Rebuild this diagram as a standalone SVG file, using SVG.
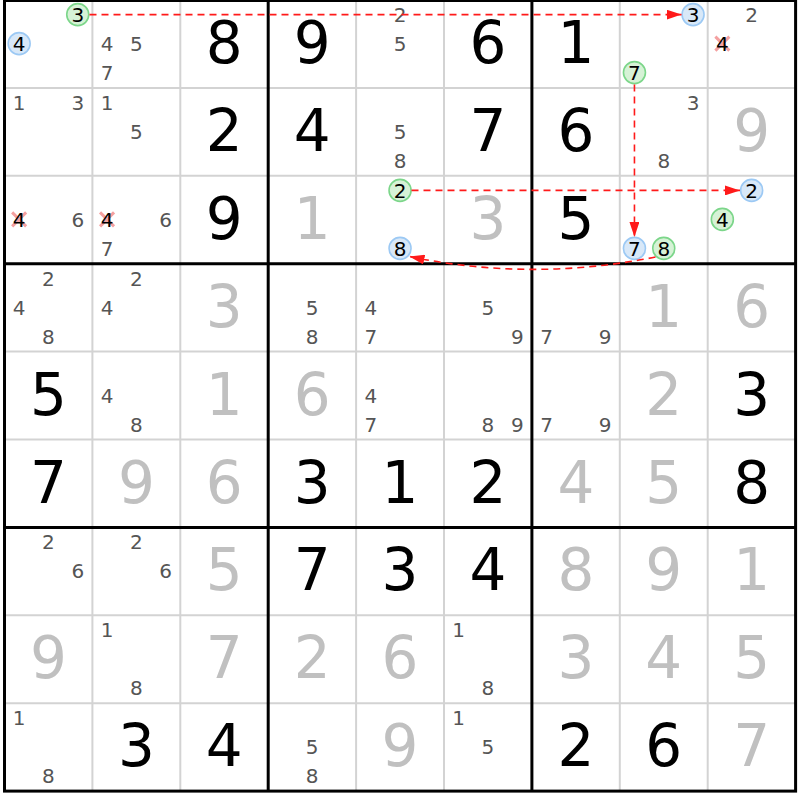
<svg xmlns="http://www.w3.org/2000/svg" width="800" height="800" viewBox="0 0 800 800">
<style>
text{font-family:"DejaVu Sans","Liberation Sans",sans-serif;text-anchor:middle}
.g{font-size:58px;fill:#000}
.s{font-size:58px;fill:#c0c0c0}
.c{font-size:20px;fill:#555}
.h{font-size:20px;fill:#000}
.thin{stroke:#d3d3d3;stroke-width:2}
.thick{stroke:#000;stroke-width:3}
.cb{fill:#d8e8f8;stroke:#9cc9f4;stroke-width:1.6}
.cg{fill:#d6f2d6;stroke:#7cd68a;stroke-width:1.6}
.x{stroke:#f4a0a0;stroke-width:3}
.link{fill:none;stroke:#ff1a1a;stroke-width:1.6;stroke-dasharray:7 5;marker-end:url(#ah)}
</style>
<defs>
<marker id="ah" markerUnits="userSpaceOnUse" markerWidth="15" markerHeight="10" refX="15" refY="5" orient="auto">
<path d="M0,0 L15,5 L0,10 z" fill="#ff1a1a"/>
</marker>
</defs>
<rect x="0" y="0" width="800" height="800" fill="#fff"/>
<g id="grid">
<g class="thin">
<line x1="92.4" y1="0" x2="92.4" y2="791"/><line x1="180.3" y1="0" x2="180.3" y2="791"/>
<line x1="356.1" y1="0" x2="356.1" y2="791"/><line x1="444" y1="0" x2="444" y2="791"/>
<line x1="619.8" y1="0" x2="619.8" y2="791"/><line x1="707.7" y1="0" x2="707.7" y2="791"/>
<line x1="4.5" y1="87.9" x2="795.6" y2="87.9"/><line x1="4.5" y1="175.8" x2="795.6" y2="175.8"/>
<line x1="4.5" y1="351.6" x2="795.6" y2="351.6"/><line x1="4.5" y1="439.5" x2="795.6" y2="439.5"/>
<line x1="4.5" y1="615.3" x2="795.6" y2="615.3"/><line x1="4.5" y1="703.2" x2="795.6" y2="703.2"/>
</g>
<g class="thick">
<line x1="268.2" y1="0" x2="268.2" y2="791"/><line x1="531.9" y1="0" x2="531.9" y2="791"/>
<line x1="4.5" y1="263.7" x2="795.6" y2="263.7"/><line x1="4.5" y1="527.4" x2="795.6" y2="527.4"/>
<rect x="4.5" y="0.5" width="791.1" height="790.6" fill="none"/>
</g>
</g>
<g id="r0">
<g id="c00"><circle class="cg" cx="77.75" cy="14.6" r="11"/><text class="h" x="77.75" y="21.9">3</text><circle class="cb" cx="19.15" cy="43.6" r="11"/><text class="h" x="19.15" y="50.9">4</text></g>
<g id="c01"><text class="c" x="107.05" y="50.9">4</text><text class="c" x="136.35" y="50.9">5</text><text class="c" x="107.05" y="79.9">7</text></g>
<g id="c02"><text class="g" x="224.25" y="63">8</text></g>
<g id="c03"><text class="g" x="312.15" y="63">9</text></g>
<g id="c04"><text class="c" x="400.05" y="21.9">2</text><text class="c" x="400.05" y="50.9">5</text></g>
<g id="c05"><text class="g" x="487.95" y="63">6</text></g>
<g id="c06"><text class="g" x="575.85" y="63">1</text></g>
<g id="c07"><circle class="cb" cx="693.05" cy="14.6" r="11"/><text class="h" x="693.05" y="21.9">3</text><circle class="cg" cx="634.45" cy="72.6" r="11"/><text class="h" x="634.45" y="79.9">7</text></g>
<g id="c08"><text class="c" x="751.65" y="21.9">2</text><path class="x" d="M715.35,36.6 L729.35,50.6 M729.35,36.6 L715.35,50.6"/><text class="h" x="722.35" y="50.9">4</text></g>
</g>
<g id="r1">
<g id="c10"><text class="c" x="19.15" y="109.8">1</text><text class="c" x="77.75" y="109.8">3</text></g>
<g id="c11"><text class="c" x="107.05" y="109.8">1</text><text class="c" x="136.35" y="138.8">5</text></g>
<g id="c12"><text class="g" x="224.25" y="150.9">2</text></g>
<g id="c13"><text class="g" x="312.15" y="150.9">4</text></g>
<g id="c14"><text class="c" x="400.05" y="138.8">5</text><text class="c" x="400.05" y="167.8">8</text></g>
<g id="c15"><text class="g" x="487.95" y="150.9">7</text></g>
<g id="c16"><text class="g" x="575.85" y="150.9">6</text></g>
<g id="c17"><text class="c" x="693.05" y="109.8">3</text><text class="c" x="663.75" y="167.8">8</text></g>
<g id="c18"><text class="s" x="751.65" y="150.9">9</text></g>
</g>
<g id="r2">
<g id="c20"><path class="x" d="M12.15,212.4 L26.15,226.4 M26.15,212.4 L12.15,226.4"/><text class="h" x="19.15" y="226.7">4</text><text class="c" x="77.75" y="226.7">6</text></g>
<g id="c21"><path class="x" d="M100.05,212.4 L114.05,226.4 M114.05,212.4 L100.05,226.4"/><text class="h" x="107.05" y="226.7">4</text><text class="c" x="165.65" y="226.7">6</text><text class="c" x="107.05" y="255.7">7</text></g>
<g id="c22"><text class="g" x="224.25" y="238.8">9</text></g>
<g id="c23"><text class="s" x="312.15" y="238.8">1</text></g>
<g id="c24"><circle class="cg" cx="400.05" cy="190.4" r="11"/><text class="h" x="400.05" y="197.7">2</text><circle class="cb" cx="400.05" cy="248.4" r="11"/><text class="h" x="400.05" y="255.7">8</text></g>
<g id="c25"><text class="s" x="487.95" y="238.8">3</text></g>
<g id="c26"><text class="g" x="575.85" y="238.8">5</text></g>
<g id="c27"><circle class="cb" cx="634.45" cy="248.4" r="11"/><text class="h" x="634.45" y="255.7">7</text><circle class="cg" cx="663.75" cy="248.4" r="11"/><text class="h" x="663.75" y="255.7">8</text></g>
<g id="c28"><circle class="cb" cx="751.65" cy="190.4" r="11"/><text class="h" x="751.65" y="197.7">2</text><circle class="cg" cx="722.35" cy="219.4" r="11"/><text class="h" x="722.35" y="226.7">4</text></g>
</g>
<g id="r3">
<g id="c30"><text class="c" x="48.45" y="285.6">2</text><text class="c" x="19.15" y="314.6">4</text><text class="c" x="48.45" y="343.6">8</text></g>
<g id="c31"><text class="c" x="136.35" y="285.6">2</text><text class="c" x="107.05" y="314.6">4</text></g>
<g id="c32"><text class="s" x="224.25" y="326.7">3</text></g>
<g id="c33"><text class="c" x="312.15" y="314.6">5</text><text class="c" x="312.15" y="343.6">8</text></g>
<g id="c34"><text class="c" x="370.75" y="314.6">4</text><text class="c" x="370.75" y="343.6">7</text></g>
<g id="c35"><text class="c" x="487.95" y="314.6">5</text><text class="c" x="517.25" y="343.6">9</text></g>
<g id="c36"><text class="c" x="546.55" y="343.6">7</text><text class="c" x="605.15" y="343.6">9</text></g>
<g id="c37"><text class="s" x="663.75" y="326.7">1</text></g>
<g id="c38"><text class="s" x="751.65" y="326.7">6</text></g>
</g>
<g id="r4">
<g id="c40"><text class="g" x="48.45" y="414.6">5</text></g>
<g id="c41"><text class="c" x="107.05" y="402.5">4</text><text class="c" x="136.35" y="431.5">8</text></g>
<g id="c42"><text class="s" x="224.25" y="414.6">1</text></g>
<g id="c43"><text class="s" x="312.15" y="414.6">6</text></g>
<g id="c44"><text class="c" x="370.75" y="402.5">4</text><text class="c" x="370.75" y="431.5">7</text></g>
<g id="c45"><text class="c" x="487.95" y="431.5">8</text><text class="c" x="517.25" y="431.5">9</text></g>
<g id="c46"><text class="c" x="546.55" y="431.5">7</text><text class="c" x="605.15" y="431.5">9</text></g>
<g id="c47"><text class="s" x="663.75" y="414.6">2</text></g>
<g id="c48"><text class="g" x="751.65" y="414.6">3</text></g>
</g>
<g id="r5">
<g id="c50"><text class="g" x="48.45" y="502.5">7</text></g>
<g id="c51"><text class="s" x="136.35" y="502.5">9</text></g>
<g id="c52"><text class="s" x="224.25" y="502.5">6</text></g>
<g id="c53"><text class="g" x="312.15" y="502.5">3</text></g>
<g id="c54"><text class="g" x="400.05" y="502.5">1</text></g>
<g id="c55"><text class="g" x="487.95" y="502.5">2</text></g>
<g id="c56"><text class="s" x="575.85" y="502.5">4</text></g>
<g id="c57"><text class="s" x="663.75" y="502.5">5</text></g>
<g id="c58"><text class="g" x="751.65" y="502.5">8</text></g>
</g>
<g id="r6">
<g id="c60"><text class="c" x="48.45" y="549.3">2</text><text class="c" x="77.75" y="578.3">6</text></g>
<g id="c61"><text class="c" x="136.35" y="549.3">2</text><text class="c" x="165.65" y="578.3">6</text></g>
<g id="c62"><text class="s" x="224.25" y="590.4">5</text></g>
<g id="c63"><text class="g" x="312.15" y="590.4">7</text></g>
<g id="c64"><text class="g" x="400.05" y="590.4">3</text></g>
<g id="c65"><text class="g" x="487.95" y="590.4">4</text></g>
<g id="c66"><text class="s" x="575.85" y="590.4">8</text></g>
<g id="c67"><text class="s" x="663.75" y="590.4">9</text></g>
<g id="c68"><text class="s" x="751.65" y="590.4">1</text></g>
</g>
<g id="r7">
<g id="c70"><text class="s" x="48.45" y="678.3">9</text></g>
<g id="c71"><text class="c" x="107.05" y="637.2">1</text><text class="c" x="136.35" y="695.2">8</text></g>
<g id="c72"><text class="s" x="224.25" y="678.3">7</text></g>
<g id="c73"><text class="s" x="312.15" y="678.3">2</text></g>
<g id="c74"><text class="s" x="400.05" y="678.3">6</text></g>
<g id="c75"><text class="c" x="458.65" y="637.2">1</text><text class="c" x="487.95" y="695.2">8</text></g>
<g id="c76"><text class="s" x="575.85" y="678.3">3</text></g>
<g id="c77"><text class="s" x="663.75" y="678.3">4</text></g>
<g id="c78"><text class="s" x="751.65" y="678.3">5</text></g>
</g>
<g id="r8">
<g id="c80"><text class="c" x="19.15" y="725.1">1</text><text class="c" x="48.45" y="783.1">8</text></g>
<g id="c81"><text class="g" x="136.35" y="766.2">3</text></g>
<g id="c82"><text class="g" x="224.25" y="766.2">4</text></g>
<g id="c83"><text class="c" x="312.15" y="754.1">5</text><text class="c" x="312.15" y="783.1">8</text></g>
<g id="c84"><text class="s" x="400.05" y="766.2">9</text></g>
<g id="c85"><text class="c" x="458.65" y="725.1">1</text><text class="c" x="487.95" y="754.1">5</text></g>
<g id="c86"><text class="g" x="575.85" y="766.2">2</text></g>
<g id="c87"><text class="g" x="663.75" y="766.2">6</text></g>
<g id="c88"><text class="s" x="751.65" y="766.2">7</text></g>
</g>
<g id="connectors">
<path class="link" d="M89.5,14.6 L681.5,14.6"/>
<path class="link" d="M634.45,84.5 L634.45,237"/>
<path class="link" d="M411.5,190.4 L740,190.4"/>
<path class="link" d="M655.5,257 Q532,282 409.5,256.5"/>
</g>
</svg>
